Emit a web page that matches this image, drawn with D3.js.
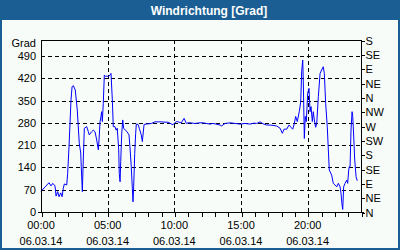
<!DOCTYPE html>
<html><head><meta charset="utf-8">
<script src="https://cdn.jsdelivr.net/npm/d3@7"></script>
<style>body{margin:0;background:#fff}svg{display:block}</style>
</head><body>
<svg id="c" width="400" height="250"></svg>
<script>
const title = "Windrichtung [Grad]";
const unitLabel = "Grad";
const hours = [0.00,0.15,0.30,0.45,0.60,0.75,0.88,1.05,1.13,1.25,1.35,1.48,1.58,1.67,1.75,1.93,2.00,2.10,2.25,2.33,2.42,2.57,2.72,2.87,2.98,3.02,3.10,3.17,3.25,3.43,3.55,3.62,3.80,3.92,4.05,4.18,4.30,4.35,4.43,4.50,4.55,4.60,4.67,4.75,4.85,4.93,5.05,5.18,5.25,5.35,5.42,5.55,5.63,5.72,5.83,5.87,5.93,5.98,6.05,6.13,6.20,6.32,6.45,6.60,6.67,6.77,6.85,6.90,6.95,7.03,7.10,7.15,7.28,7.37,7.52,7.60,7.73,7.90,8.27,8.55,8.78,9.02,9.30,9.53,9.75,9.90,10.03,10.18,10.28,10.52,10.73,10.90,11.03,11.18,11.55,11.93,12.17,12.38,12.68,12.90,13.13,13.43,13.55,13.80,14.18,14.55,14.93,15.30,15.68,15.98,16.18,16.43,16.65,16.93,17.18,17.40,17.68,17.93,18.10,18.23,18.43,18.60,18.75,18.88,19.00,19.10,19.22,19.37,19.48,19.55,19.63,19.67,19.75,19.82,19.90,20.00,20.10,20.18,20.25,20.35,20.42,20.50,20.60,20.68,20.80,20.93,21.05,21.17,21.25,21.35,21.47,21.55,21.62,21.80,21.92,22.05,22.18,22.30,22.43,22.50,22.58,22.63,22.70,22.80,22.93,23.00,23.08,23.12,23.18,23.25,23.33,23.38,23.42,23.53,23.63,23.72];
const values = [65,72,78,85,92,82,90,82,50,64,48,60,48,74,88,85,121,205,352,393,397,383,320,216,185,142,64,163,263,268,252,242,252,257,252,226,195,226,284,300,315,284,341,430,425,427,425,430,435,352,268,268,257,263,195,121,95,158,242,289,263,257,252,242,205,142,74,32,79,184,247,276,275,263,242,221,275,276,278,283,283,283,282,282,277,274,280,284,283,280,294,278,280,280,278,280,280,278,276,278,276,273,270,278,280,278,276,278,276,279,278,283,277,273,273,272,270,263,247,260,260,273,266,260,278,300,284,315,346,440,477,414,231,300,284,373,388,315,331,284,315,289,266,278,362,435,446,456,435,341,268,195,132,116,90,85,79,90,79,59,22,8,79,90,100,90,132,142,142,257,315,300,268,163,111,98];
const leftTicks = [0,70,140,210,280,350,420,490];
const rightTicks = [0,45,90,135,180,225,270,315,360,405,450,495,540];
const rightLabels = ["N","NE","E","SE","S","SW","W","NW","N","NE","E","SE","S"];
const xTickHours = [0,5,10,15,20];
const xTimeLabels = ["00:00","05:00","10:00","15:00","20:00"];
const xDateLabels = ["06.03.14","06.03.14","06.03.14","06.03.14","06.03.14"];

const svg = d3.select("#c");
const W=400,H=250;
const L=41,R=361,T=40,B=212;
const x = d3.scaleLinear().domain([0,24]).range([L,R]);
const y = d3.scaleLinear().domain([0,540]).range([B,T]);
const font = "'Liberation Sans', Arial, sans-serif";

// frame
svg.append("rect").attr("x",0).attr("y",0).attr("width",W).attr("height",H).attr("fill","#1b5e93");
svg.append("rect").attr("x",2).attr("y",20).attr("width",W-4).attr("height",H-22).attr("fill","#f8fcf8");
svg.append("text").attr("x",209).attr("y",14.5).attr("text-anchor","middle")
  .attr("font-family",font).attr("font-weight","bold").attr("font-size",12).attr("fill","#fff").text(title);

// grid
const g = svg.append("g").attr("shape-rendering","crispEdges");
g.selectAll(".hg").data(leftTicks.filter(d=>d>0)).join("line")
  .attr("x1",L).attr("x2",R).attr("y1",d=>Math.round(y(d))+0.5).attr("y2",d=>Math.round(y(d))+0.5)
  .attr("stroke","#000").attr("stroke-dasharray","4,3");
g.selectAll(".vg").data(xTickHours.filter(d=>d>0)).join("line")
  .attr("y1",T).attr("y2",B).attr("x1",d=>Math.round(x(d))+0.5).attr("x2",d=>Math.round(x(d))+0.5)
  .attr("stroke","#000").attr("stroke-dasharray","4,3");

// line
const line = d3.line().x((d,i)=>x(hours[i])).y(d=>y(d));
svg.append("path").datum(values).attr("d",line).attr("fill","none").attr("stroke","#0000ff").attr("stroke-width",1);

// plot border
svg.append("rect").attr("x",L+0.5).attr("y",T+0.5).attr("width",R-L).attr("height",B-T)
  .attr("fill","none").attr("stroke","#000").attr("shape-rendering","crispEdges");

// bottom axis
const xb = d3.axisBottom(x).tickValues(d3.range(0,25,1)).tickSize(4).tickFormat("");
const gx = svg.append("g").attr("transform",`translate(0.5,${B+0.5})`).call(xb);
gx.select(".domain").remove();
gx.selectAll("line").attr("stroke","#000").attr("shape-rendering","crispEdges");
svg.append("line").attr("x1",L-3).attr("x2",R+3).attr("y1",B+0.5).attr("y2",B+0.5).attr("stroke","#000").attr("shape-rendering","crispEdges");
svg.selectAll(".xl1").data(xTickHours).join("text").attr("x",d=>x(d)).attr("y",229)
  .attr("text-anchor","middle").attr("font-family",font).attr("font-size",11).attr("fill","#000").text((d,i)=>xTimeLabels[i]);
svg.selectAll(".xl2").data(xTickHours).join("text").attr("x",d=>x(d)).attr("y",245)
  .attr("text-anchor","middle").attr("font-family",font).attr("font-size",11).attr("fill","#000").text((d,i)=>xDateLabels[i]);

// left axis
const yl = d3.axisLeft(y).tickValues(leftTicks).tickSize(0).tickPadding(5);
const gl = svg.append("g").attr("transform",`translate(${L},0)`).call(yl);
gl.select(".domain").remove();
gl.selectAll("text").attr("font-family",font).attr("font-size",11).attr("fill","#000");
svg.append("text").attr("x",36).attr("y",47).attr("text-anchor","end").attr("font-family",font).attr("font-size",11).attr("fill","#000").text(unitLabel);

// right axis
const yr = d3.axisRight(y).tickValues(rightTicks).tickSize(3).tickPadding(1).tickFormat((d,i)=>rightLabels[i]);
const gr = svg.append("g").attr("transform",`translate(${R+0.5},0.5)`).call(yr);
gr.select(".domain").remove();
gr.selectAll("line").attr("stroke","#000").attr("shape-rendering","crispEdges");
gr.selectAll("text").attr("font-family",font).attr("font-size",11).attr("fill","#000");
</script>
</body></html>
